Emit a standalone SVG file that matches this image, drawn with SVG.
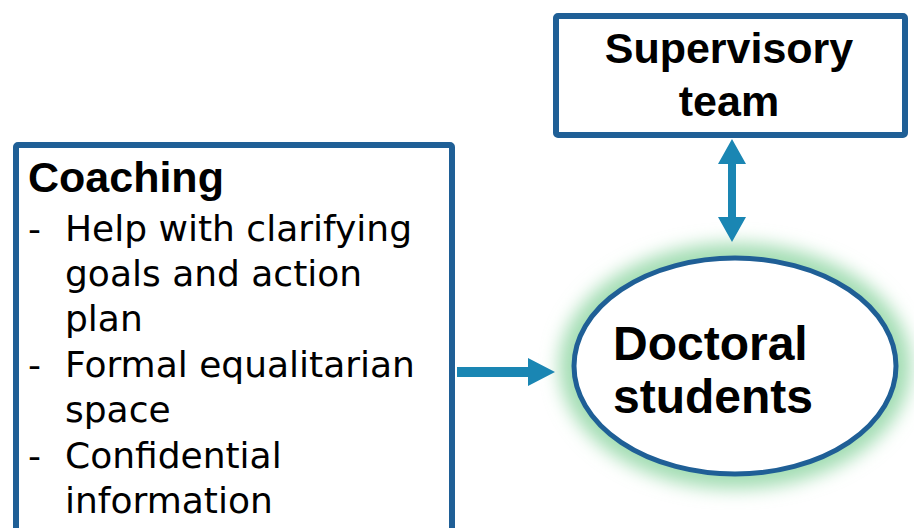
<svg xmlns="http://www.w3.org/2000/svg" width="914" height="528" viewBox="0 0 914 528">
  <defs>
    <filter id="glow" x="-25%" y="-35%" width="150%" height="170%">
      <feGaussianBlur stdDeviation="9"/>
    </filter>
    <style>
      .box { fill: #ffffff; stroke: #1F5F96; stroke-width: 6; }
      .head { font-family: "Liberation Sans", Arial, sans-serif; font-weight: bold; fill: #000; }
      .body { font-family: "DejaVu Sans", "Liberation Sans", sans-serif; font-size: 36px; fill: #000; }
      .arrow { fill: #1A86B3; }
    </style>
  </defs>
  <rect width="914" height="528" fill="#ffffff"/>

  <!-- supervisory team box -->
  <g id="supervisory-team">
    <rect class="box" x="556" y="16" width="349" height="119" rx="2"/>
    <text class="head" font-size="43" x="729" y="63" text-anchor="middle">Supervisory</text>
    <text class="head" font-size="43" x="729" y="116" text-anchor="middle">team</text>
  </g>

  <!-- coaching box, runs off the bottom edge -->
  <g id="coaching">
    <rect class="box" x="16" y="145" width="436" height="420" rx="2"/>
    <text class="head" font-size="43" x="28" y="192">Coaching</text>
    <text class="body" x="28" y="241">-</text>
    <text class="body" x="65" y="241">Help with clarifying</text>
    <text class="body" x="65" y="286">goals and action</text>
    <text class="body" x="65" y="331">plan</text>
    <text class="body" x="28" y="377">-</text>
    <text class="body" x="65" y="377">Formal equalitarian</text>
    <text class="body" x="65" y="422">space</text>
    <text class="body" x="28" y="468">-</text>
    <text class="body" x="65" y="468">Confidential</text>
    <text class="body" x="65" y="513">information</text>
  </g>

  <!-- doctoral students ellipse with soft green halo -->
  <g id="doctoral-students">
    <ellipse cx="735" cy="366" rx="176" ry="123" fill="#A3DDB3" filter="url(#glow)"/>
    <ellipse cx="735" cy="366" rx="161" ry="108" fill="#ffffff" stroke="#1F5F96" stroke-width="5"/>
    <text class="head" font-size="48" x="613" y="360">Doctoral</text>
    <text class="head" font-size="48" x="613" y="413">students</text>
  </g>

  <!-- connectors -->
  <g id="connectors">
    <polygon class="arrow" points="732,139 746,164 736,164 736,217 746,217 732,242 718,217 728,217 728,164 718,164"/>
    <polygon class="arrow" points="457,367 528,367 528,358 555,372 528,386 528,377 457,377"/>
  </g>
</svg>
